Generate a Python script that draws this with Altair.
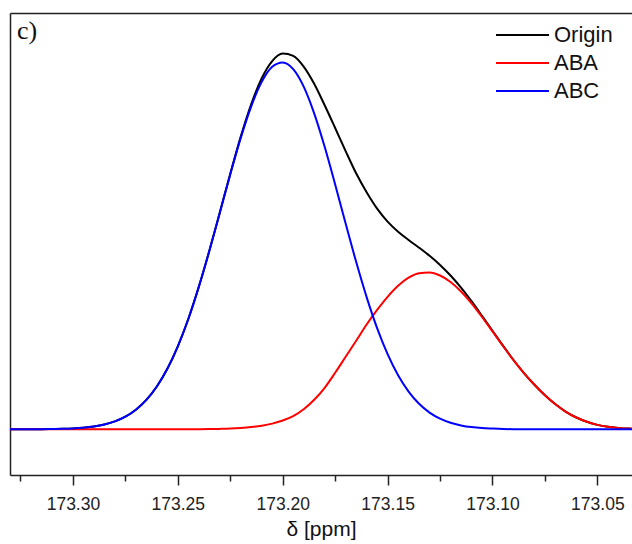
import altair as alt
import pandas as pd

# chemical shift grid (ppm)
ppm = [173.330, 173.325, 173.320, 173.315, 173.310, 173.305, 173.300, 173.295, 173.290, 173.285,
       173.280, 173.275, 173.270, 173.265, 173.260, 173.255, 173.250, 173.245, 173.240, 173.235,
       173.230, 173.225, 173.220, 173.215, 173.210, 173.205, 173.200, 173.195, 173.190, 173.185,
       173.180, 173.175, 173.170, 173.165, 173.160, 173.155, 173.150, 173.145, 173.140, 173.135,
       173.130, 173.125, 173.120, 173.115, 173.110, 173.105, 173.100, 173.095, 173.090, 173.085,
       173.080, 173.075, 173.070, 173.065, 173.060, 173.055, 173.050, 173.045, 173.040, 173.035,
       173.030]

# intensities (a.u.)
origin = [0.0, 0.0, 0.1, 0.1, 0.3, 0.5, 0.9, 1.6, 2.8, 4.8,
          7.9, 12.6, 19.6, 29.4, 42.8, 60.5, 83.0, 110.3, 142.5, 178.4,
          216.8, 255.6, 292.7, 325.2, 351.0, 368.2, 375.7, 373.4, 362.7, 345.5,
          324.0, 301.3, 278.2, 256.0, 237.0, 220.6, 207.6, 197.5, 189.3, 181.6,
          173.5, 164.4, 153.8, 141.7, 128.1, 113.5, 98.6, 83.6, 69.3, 56.2,
          44.5, 34.0, 25.0, 17.5, 11.8, 7.5, 4.4, 2.5, 1.4, 0.7,
          0.4]
aba = [0.0, 0.0, 0.0, 0.0, 0.0, 0.0, 0.0, 0.0, 0.0, 0.0,
       0.0, 0.0, 0.0, 0.0, 0.0, 0.0, 0.0, 0.0, 0.1, 0.2,
       0.4, 0.7, 1.3, 2.2, 3.6, 5.7, 8.8, 13.2, 20.0, 29.5,
       41.5, 56.5, 72.5, 88.5, 104.8, 119.4, 132.5, 143.5, 151.6, 156.1,
       156.8, 153.8, 147.3, 137.8, 125.9, 112.3, 97.9, 83.3, 69.2, 56.2,
       44.5, 34.0, 25.0, 17.5, 11.8, 7.5, 4.4, 2.5, 1.4, 0.7,
       0.4]
abc = [0.0, 0.0, 0.1, 0.1, 0.3, 0.5, 0.9, 1.6, 2.8, 4.8,
       7.9, 12.6, 19.6, 29.4, 42.8, 60.5, 83.0, 110.3, 142.4, 178.2,
       216.4, 254.9, 291.4, 323.0, 347.4, 362.5, 366.9, 360.2, 342.7, 316.0,
       282.5, 244.8, 205.7, 167.5, 132.2, 101.2, 75.1, 54.0, 37.7, 25.5,
       16.7, 10.6, 6.5, 3.9, 2.2, 1.2, 0.7, 0.3, 0.1, 0.0,
       0.0, 0.0, 0.0, 0.0, 0.0, 0.0, 0.0, 0.0, 0.0, 0.0,
       0.0]

series_names = ["Origin", "ABA", "ABC"]
series_colors = ["#000000", "#ff0000", "#0000ff"]
tick_values = [173.325, 173.30, 173.275, 173.25, 173.225, 173.20, 173.175,
               173.15, 173.125, 173.10, 173.075, 173.05]

rows = []
for name, vals in zip(series_names, [origin, aba, abc]):
    for p, v in zip(ppm, vals):
        rows.append({"ppm": p, "value": v, "series": name})
df = pd.DataFrame(rows)

W, H = 622, 462
xscale = alt.Scale(domain=[173.33, 173.0335], nice=False, zero=False)
yscale = alt.Scale(domain=[-45.7, 416.3], nice=False, zero=False)

major_test = "abs(datum.value*20 - round(datum.value*20)) < 0.01"

bottom_axis = alt.Axis(
    orient="bottom", values=tick_values,
    labelExpr=f"{major_test} ? format(datum.value, '.2f') : ''",
    tickSize={"condition": {"test": major_test, "value": 10}, "value": 6},
    tickColor="#222", tickWidth=1.5, domainColor="#222", domainWidth=1.5,
    labelFont="Liberation Sans", labelFontSize=17.5, labelColor="#222",
    labelPadding=10, labelFlush=False, labelOverlap=False,
    title="δ [ppm]", titleFont="Liberation Sans", titleFontSize=21,
    titleFontWeight="normal", titleColor="#111", titlePadding=6, grid=False,
)
top_axis = alt.Axis(orient="top", labels=False, ticks=False, domain=True,
                    domainColor="#222", domainWidth=1.5, title=None, grid=False)
left_axis = alt.Axis(orient="left", labels=False, ticks=False, domain=True,
                     domainColor="#222", domainWidth=1.5, title=None, grid=False)

color = alt.Color(
    "series:N",
    scale=alt.Scale(domain=series_names, range=series_colors),
    legend=alt.Legend(
        title=None, orient="none", legendX=485, legendY=8, direction="vertical",
        labelFont="Liberation Sans", labelFontSize=22, labelColor="#111",
        symbolType="stroke", symbolStrokeWidth=2, symbolSize=2809,
        labelOffset=4, padding=0, rowPadding=0, clipHeight=28,
    ),
)


def line_layer(name, xaxis):
    return alt.Chart(df).transform_filter(alt.datum.series == name).mark_line(
        strokeWidth=2, interpolate="monotone", clip=True
    ).encode(
        x=alt.X("ppm:Q", scale=xscale, axis=xaxis),
        y=alt.Y("value:Q", scale=yscale, axis=left_axis),
        color=color,
    )


l_origin = line_layer("Origin", bottom_axis)
l_aba = line_layer("ABA", top_axis)
l_abc = line_layer("ABC", None)

label = alt.Chart(pd.DataFrame({"label": ["c)"]})).mark_text(
    font="Liberation Serif", fontSize=26, align="left", baseline="alphabetic", color="#111"
).encode(text="label:N", x=alt.value(7), y=alt.value(26))

chart = alt.layer(l_origin, l_aba, l_abc, label).resolve_axis(x="independent").properties(
    width=W, height=H, padding={"left": 10, "top": 13, "right": 0, "bottom": 0},
    background="white",
).configure_view(stroke=None)

chart.save("out.html", embed_options={"renderer": "svg", "actions": False})
